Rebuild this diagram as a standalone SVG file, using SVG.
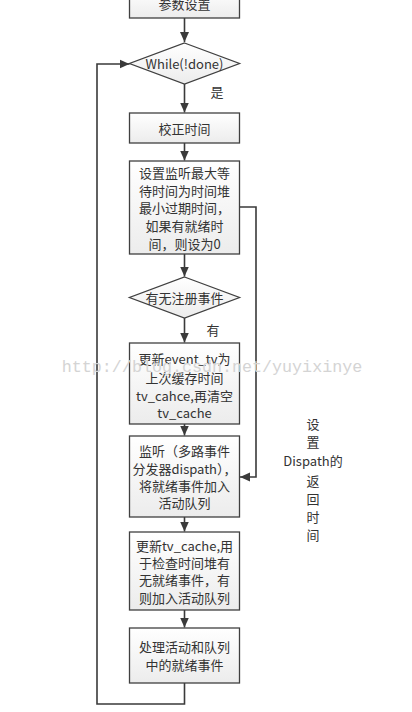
<svg xmlns="http://www.w3.org/2000/svg" width="412" height="712" viewBox="0 0 412 712">
<defs>
<linearGradient id="g" x1="0" y1="0" x2="0" y2="1">
<stop offset="0" stop-color="#ffffff"/>
<stop offset="1" stop-color="#ececec"/>
</linearGradient>
<marker id="arr" markerUnits="userSpaceOnUse" markerWidth="10" markerHeight="10" refX="10" refY="5" orient="auto">
<path d="M0,0.5 L10,5 L0,9.5 z" fill="#3a3a3a"/>
</marker>
<style>
.b{fill:url(#g);stroke:#404040;stroke-width:1.3}
.t{font-family:"Noto Sans CJK SC","Liberation Sans",sans-serif;font-size:13px;fill:#333;text-anchor:middle;dominant-baseline:central}
.c{fill:none;stroke:#3a3a3a;stroke-width:1.6}
.w{font-family:"Liberation Mono",monospace;font-size:16.7px;fill:#d4d4d4;text-anchor:middle;dominant-baseline:central}
</style>
</defs>
<rect width="412" height="712" fill="#fff"/>
<g id="connectors">
<path class="c" d="M184.5,18 V42" marker-end="url(#arr)"/>
<path class="c" d="M184.5,84 V112.5" marker-end="url(#arr)"/>
<path class="c" d="M184.5,143 V160.5" marker-end="url(#arr)"/>
<path class="c" d="M184.5,254 V276.5" marker-end="url(#arr)"/>
<path class="c" d="M184.5,318 V342.5" marker-end="url(#arr)"/>
<path class="c" d="M184.5,424 V435.5" marker-end="url(#arr)"/>
<path class="c" d="M184.5,517 V531.5" marker-end="url(#arr)"/>
<path class="c" d="M184.5,610 V627.5" marker-end="url(#arr)"/>
<path class="c" d="M184.5,683 V704 H97 V64 H129.5" marker-end="url(#arr)"/>
<path class="c" d="M239.5,207 H256 V477 H240" marker-end="url(#arr)"/>
</g>
<g id="n0"><rect class="b" x="129.5" y="-10" width="110" height="28"/><text class="t" x="184.5" y="3">参数设置</text></g>
<g id="n1"><polygon class="b" points="184.5,43 239.5,63.5 184.5,84 129.5,63.5"/><text class="t" x="184.5" y="63">While(!done)</text></g>
<g id="l1"><text class="t" x="217" y="91">是</text></g>
<g id="n2"><rect class="b" x="129.5" y="113" width="110" height="30"/><text class="t" x="184.5" y="128">校正时间</text></g>
<g id="n3"><rect class="b" x="129.5" y="161" width="110" height="93"/>
<text class="t" x="184.5" y="172">设置监听最大等</text>
<text class="t" x="184.5" y="190">待时间为时间堆</text>
<text class="t" x="184.5" y="207">最小过期时间，</text>
<text class="t" x="184.5" y="225">如果有就绪时</text>
<text class="t" x="184.5" y="243">间，则设为0</text></g>
<g id="n4"><polygon class="b" points="184.5,277 239.5,297.5 184.5,318 129.5,297.5"/><text class="t" x="184.5" y="297">有无注册事件</text></g>
<g id="l2"><text class="t" x="213" y="329">有</text></g>
<g id="n5"><rect class="b" x="129.5" y="343" width="110" height="81"/>
<text class="t" x="184.5" y="358">更新event_tv为</text>
<text class="t" x="184.5" y="377">上次缓存时间</text>
<text class="t" x="184.5" y="395">tv_cahce,再清空</text>
<text class="t" x="184.5" y="412">tv_cache</text></g>
<g id="n6"><rect class="b" x="129.5" y="436" width="110" height="81"/>
<text class="t" x="184.5" y="450">监听（多路事件</text>
<text class="t" x="184.5" y="468">分发器dispath），</text>
<text class="t" x="184.5" y="485">将就绪事件加入</text>
<text class="t" x="184.5" y="502">活动队列</text></g>
<g id="n7"><rect class="b" x="129.5" y="532" width="110" height="78"/>
<text class="t" x="184.5" y="545">更新tv_cache,用</text>
<text class="t" x="184.5" y="562">于检查时间堆有</text>
<text class="t" x="184.5" y="579">无就绪事件，有</text>
<text class="t" x="184.5" y="597">则加入活动队列</text></g>
<g id="n8"><rect class="b" x="129.5" y="628" width="110" height="55"/>
<text class="t" x="184.5" y="646">处理活动和队列</text>
<text class="t" x="184.5" y="664">中的就绪事件</text></g>
<g id="l3">
<text class="t" x="313" y="423">设</text>
<text class="t" x="313" y="441">置</text>
<text class="t" x="313" y="460">Dispath的</text>
<text class="t" x="313" y="480">返</text>
<text class="t" x="313" y="498">回</text>
<text class="t" x="313" y="516">时</text>
<text class="t" x="313" y="534">间</text>
</g>
<text class="w" x="212" y="367">http://blog.csdn.net/yuyixinye</text>
</svg>
